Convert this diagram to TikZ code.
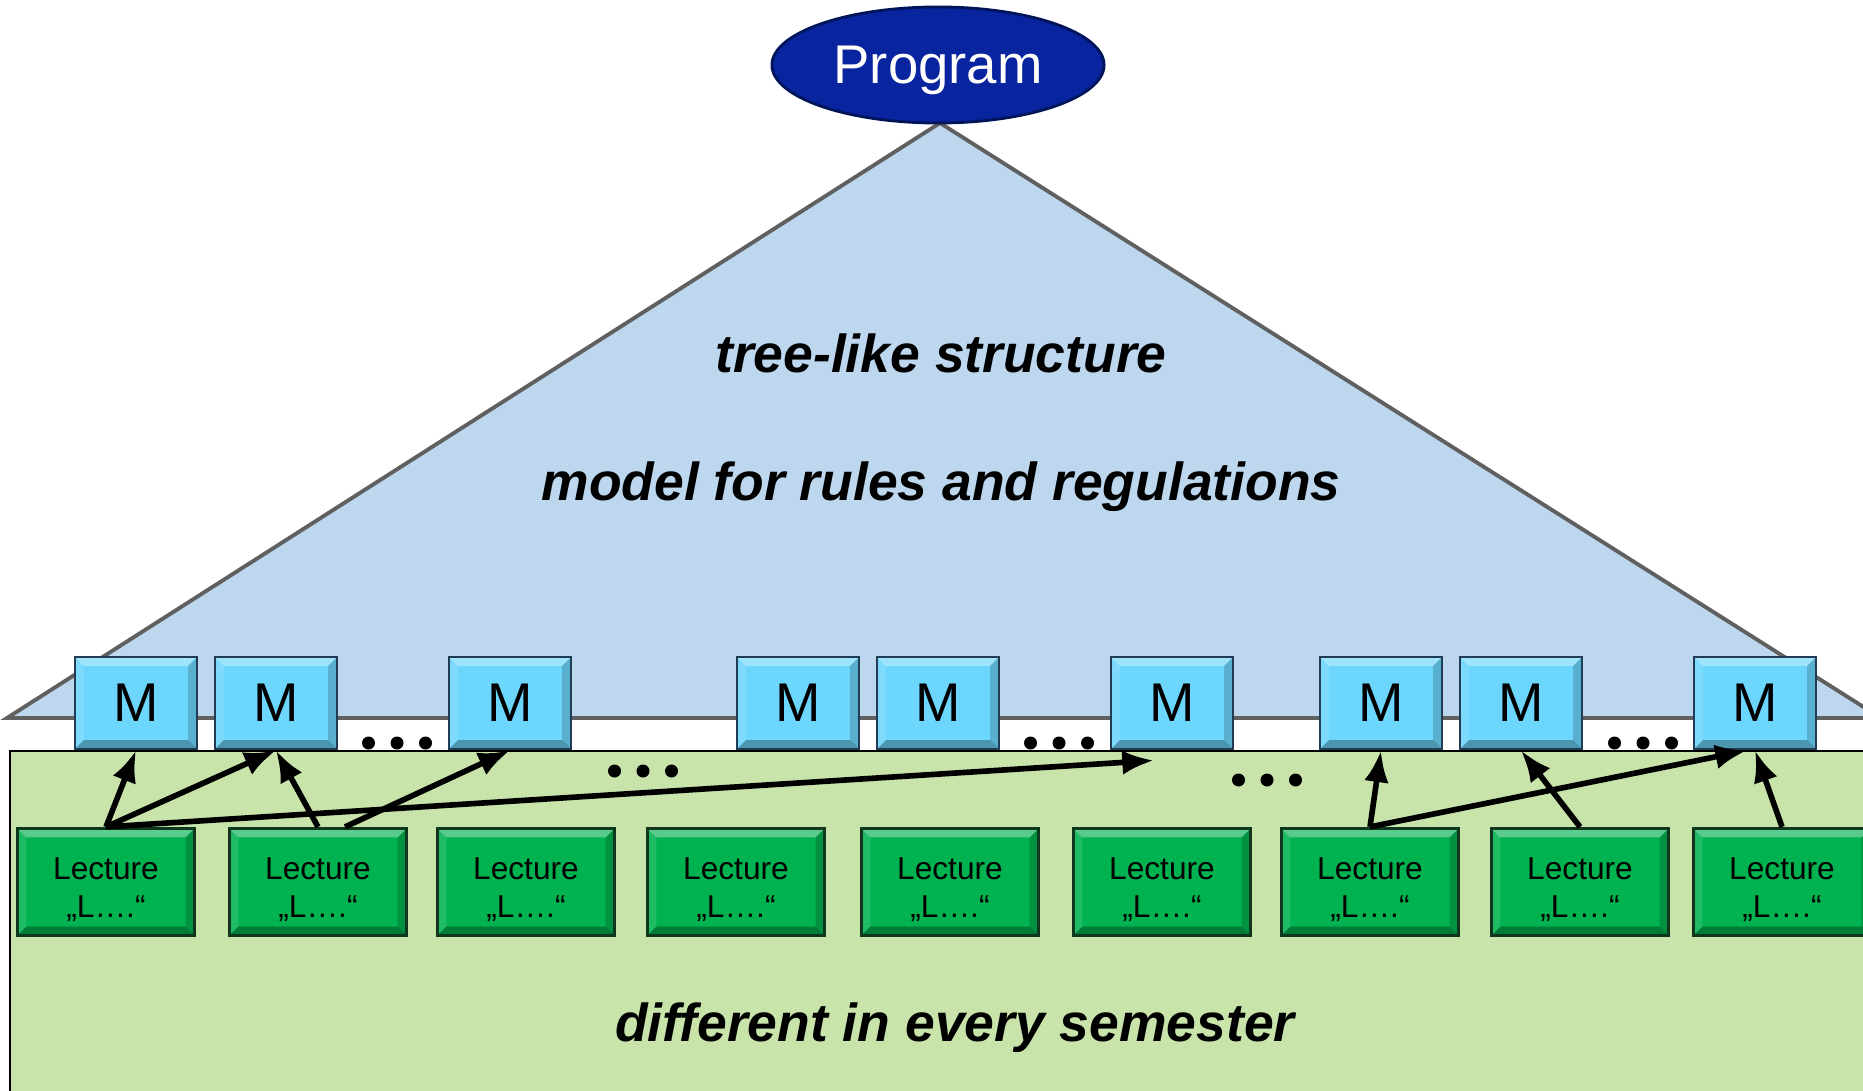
\documentclass[tikz,border=0pt]{standalone}
\usepackage{fontspec}
\setmainfont{Liberation Sans}
\usetikzlibrary{shapes.geometric,arrows.meta}

\definecolor{triblue}{RGB}{189,215,238}
\definecolor{semgreen}{RGB}{200,228,170}
\definecolor{modcyan}{RGB}{108,214,252}
\definecolor{modedge}{RGB}{35,60,85}
\definecolor{lecgreen}{RGB}{0,178,80}
\definecolor{lecedge}{RGB}{15,55,30}
\definecolor{progblue}{RGB}{8,36,158}
\definecolor{progedge}{RGB}{0,20,90}

\tikzset{
  bevel/.style={path picture={
    \fill[white,opacity=.35] (path picture bounding box.north west) -- (path picture bounding box.north east)
      -- ([xshift=-#1,yshift=-#1]path picture bounding box.north east) -- ([xshift=#1,yshift=-#1]path picture bounding box.north west) -- cycle;
    \fill[white,opacity=.12] (path picture bounding box.north west) -- (path picture bounding box.south west)
      -- ([xshift=#1,yshift=#1]path picture bounding box.south west) -- ([xshift=#1,yshift=-#1]path picture bounding box.north west) -- cycle;
    \fill[black,opacity=.18] (path picture bounding box.north east) -- (path picture bounding box.south east)
      -- ([xshift=-#1,yshift=#1]path picture bounding box.south east) -- ([xshift=-#1,yshift=-#1]path picture bounding box.north east) -- cycle;
    \fill[black,opacity=.3] (path picture bounding box.south west) -- (path picture bounding box.south east)
      -- ([xshift=-#1,yshift=#1]path picture bounding box.south east) -- ([xshift=#1,yshift=#1]path picture bounding box.south west) -- cycle;
  }},
  module/.style={draw=modedge, fill=modcyan, line width=0.8pt, minimum width=1.22cm,
    minimum height=0.92cm, inner sep=0pt, font=\fontsize{15.5}{18}\selectfont, bevel=0.09cm},
  lecture/.style={draw=lecedge, fill=lecgreen, line width=0.9pt, minimum width=1.77cm,
    minimum height=1.07cm, inner sep=0pt, align=center, font=\fontsize{9}{10.9}\selectfont, bevel=0.09cm},
  prog/.style={ellipse, draw=progedge, fill=progblue, line width=0.8pt, minimum width=3.32cm,
    minimum height=1.16cm, inner sep=0pt, text=white, text depth=0pt, font=\fontsize{15.5}{18}\selectfont},
  bigtext/.style={text depth=0pt, font=\fontsize{15.2}{18}\selectfont\bfseries\itshape},
  conn/.style={-{Latex[length=9pt,width=7pt]}, line width=1.6pt}
}

\begin{document}
\begin{tikzpicture}[x=0.01cm, y=-0.01cm]
\useasboundingbox (0,0) rectangle (1863,1091);
\clip (0,0) rectangle (1863,1091);

% tree and semester area
\coordinate (apex) at (940,123);
\filldraw[fill=triblue, draw=gray!75!black, line width=1.1pt] (7,718) -- (apex) -- (1881,718) -- cycle;
\filldraw[fill=semgreen, draw=black, line width=0.8pt] (10,751) rectangle (1900,1110);

\node[bigtext] (tree) at (941,353) {tree-like structure};
\node[bigtext] (rules) at (941,481) {model for rules and regulations};
\node[bigtext] (sem) at (955,1022) {different in every semester};

% modules and lectures
\foreach \i/\x in {1/136,2/276,3/510,4/798,5/938,6/1172,7/1381,8/1521,9/1755}
  \node[module] (m\i) at (\x,703) {M};
\foreach \i/\x in {1/106,2/318,3/526,4/736,5/950,6/1162,7/1370,8/1580,9/1782}
  \node[lecture] (l\i) at (\x,882) {\rule{0pt}{10.5pt}Lecture\\„L….“};

\foreach \cx/\cy in {397/743, 1059/743, 1643/743, 643/771, 1267/780}
  \foreach \d in {-28.5,0,28.5}
    \fill (\cx+\d,\cy) circle[radius=6.5];

\draw[conn] (l1.north) -- (m1.south);
\draw[conn] (l1.north) -- (m2.south);
\draw[conn] (l2.north) -- (m2.south);
\draw[conn] ([xshift=0.27cm]l2.north) -- (m3.south);
\draw[conn] (l1.north) -- ([xshift=-0.18cm,yshift=-0.1cm]m6.south);
\draw[conn] (l7.north) -- (m7.south);
\draw[conn] (l7.north) -- ([xshift=-0.08cm]m9.south);
\draw[conn] (l8.north) -- (m8.south);
\draw[conn] (l9.north) -- (m9.south);

\node[prog] (prog) at (938,65) {Program};
\end{tikzpicture}
\end{document}
